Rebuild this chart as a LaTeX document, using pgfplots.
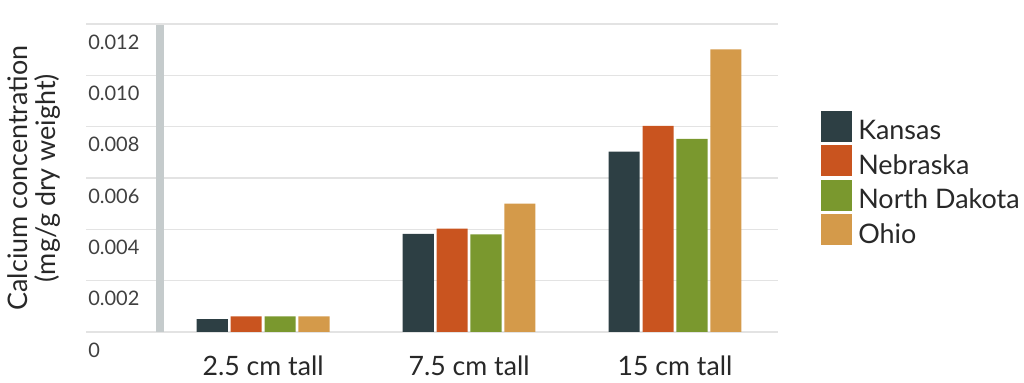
\documentclass[border=0pt]{standalone}
\usepackage{pgfplots}
\pgfplotsset{compat=1.18}
\usepackage{fontspec}
\setmainfont{Lato}
\definecolor{cKan}{RGB}{45,63,68}
\definecolor{cNeb}{RGB}{201,84,31}
\definecolor{cND}{RGB}{122,152,46}
\definecolor{cOh}{RGB}{212,154,74}
\definecolor{gridc}{RGB}{227,227,227}
\definecolor{axc}{RGB}{197,203,204}
\definecolor{txt}{RGB}{40,40,40}
\begin{document}
\begin{tikzpicture}
\useasboundingbox (0,0) rectangle (768pt,286.5pt);
\begin{axis}[
  at={(64.5pt,37.5pt)}, anchor=south west,
  scale only axis, width=519pt, height=231pt,
  xmin=-0.86, xmax=2.5, ymin=0, ymax=0.012,
  axis line style={draw=none}, clip=false,
  ybar=0pt,
  xtick={0,1,2}, xticklabels={2.5 cm tall,7.5 cm tall,15 cm tall},
  ytick={0,0.002,0.004,0.006,0.008,0.010,0.012},
  yticklabels={0,0.002,0.004,0.006,0.008,0.010,0.012},
  scaled y ticks=false,
  tick style={draw=none},
  xticklabel style={font=\fontsize{20}{24}\selectfont, text=txt, inner sep=0pt, anchor=north, yshift=-13.5pt},
  yticklabel style={font=\fontsize{15}{18}\selectfont, text=black!75, inner sep=0pt, anchor=west, xshift=1.5pt, yshift=-13.5pt},
  ylabel={Calcium concentration\\(mg/g dry weight)},
  ylabel style={at={(rel axis cs:-0.0752,0.5)}, anchor=center, align=center, font=\fontsize{20.2}{21.4}\selectfont, text=txt},
  bar width=0.151,
  legend style={draw=none, fill=none, at={(rel axis cs:1.0564,0.728)}, anchor=north west,
    font=\fontsize{20.2}{22}\selectfont, text=txt, row sep=2.5pt,
    nodes={inner sep=0pt}},
  legend cell align=left,
  legend image code/.code={\fill[#1] (0pt,-11.625pt+0.36em) rectangle (23.25pt,11.625pt+0.36em);},
  /tikz/every odd column/.append style={column sep=4.5pt},
]
\pgfplotsinvokeforeach{0,0.002,0.004,0.006,0.008,0.010,0.012}{
  \draw[gridc, line width=1.2pt] (axis cs:-0.86,#1) -- (axis cs:2.5,#1);
}
\draw[axc, line width=6pt] (axis cs:-0.5,0) -- (axis cs:-0.5,0.01195);
\addplot[fill=cKan, draw=none, bar shift=-0.247] coordinates {(0,0.0005) (1,0.00382) (2,0.00703)};
\addplot[fill=cNeb, draw=none, bar shift=-0.0823] coordinates {(0,0.00061) (1,0.00403) (2,0.00803)};
\addplot[fill=cND, draw=none, bar shift=0.0823] coordinates {(0,0.00061) (1,0.0038) (2,0.00752)};
\addplot[fill=cOh, draw=none, bar shift=0.247] coordinates {(0,0.00061) (1,0.005) (2,0.01101)};
\legend{Kansas,Nebraska,North Dakota,Ohio}
\end{axis}
\end{tikzpicture}
\end{document}
